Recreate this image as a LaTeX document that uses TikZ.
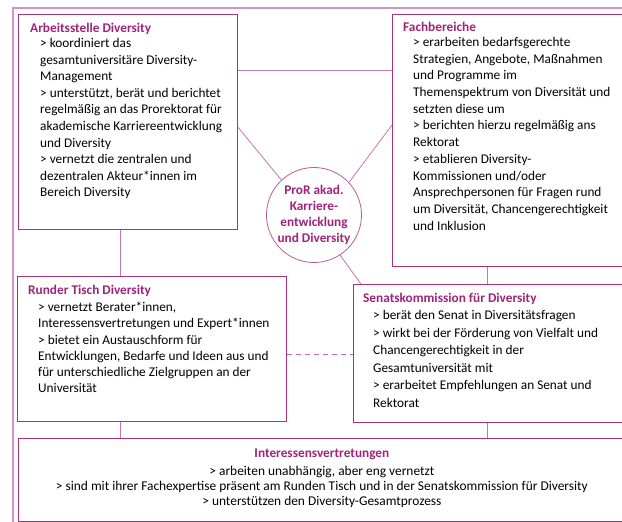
\documentclass[tikz,border=0pt]{standalone}
\usepackage{fontspec}
\setmainfont{Carlito}
\usetikzlibrary{positioning,calc}
\definecolor{titel}{RGB}{158,36,122}
\definecolor{rahmen}{RGB}{168,50,128}
\definecolor{linie}{RGB}{196,118,178}
\definecolor{aussen}{RGB}{214,146,198}
\tikzset{
	kasten/.style={draw=rahmen,line width=.8pt,anchor=north west,inner sep=0pt},
	kopf/.style={anchor=base west,inner sep=0pt,text=titel,font=\fontsize{13.3}{16}\selectfont\bfseries},
	liste/.style={anchor=north west,inner sep=0pt,align=left,font=\fontsize{13.3}{#1}\selectfont},
	verb/.style={draw=linie,line width=.8pt},
}
\begin{document}
\begin{tikzpicture}[x=1pt,y=-1pt]
	\useasboundingbox (0,0) rectangle (622,522);
	\clip (0,0) rectangle (622,522);
	\draw[aussen,line width=1.3pt] (13,8) rectangle (660,560);
	\coordinate (h1) at (0,70);
	\coordinate (h2) at (0,354);
	\coordinate (v1) at (120,0);
	\coordinate (v2) at (487,0);

	\node[kasten,minimum width=219pt,minimum height=215pt] (arb) at (18,14) {};
	\node[kopf] (arbkopf) at ($(arb.north west)+(12,18)$) {Arbeitsstelle Diversity};
	\node[liste=16.6pt] (arbtext) at ($(arbkopf.base west)+(10,6)$) {> koordiniert das\\gesamtuniversitäre Diversity-\\Management\\> unterstützt, berät und berichtet\\regelmäßig an das Prorektorat für\\akademische Karriereentwicklung\\und Diversity\\> vernetzt die zentralen und\\dezentralen Akteur*innen im\\Bereich Diversity};

	\node[kasten,minimum width=240pt,minimum height=252pt] (fach) at (392,14) {};
	\node[kopf] (fachkopf) at ($(fach.north west)+(11,17)$) {Fachbereiche};
	\node[liste=16.7pt] (fachtext) at ($(fachkopf.base west)+(10,6)$) {> erarbeiten bedarfsgerechte\\Strategien, Angebote, Maßnahmen\\und Programme im\\Themenspektrum von Diversität und\\setzten diese um\\> berichten hierzu regelmäßig ans\\Rektorat\\> etablieren Diversity-\\Kommissionen und/oder\\Ansprechpersonen für Fragen rund\\um Diversität, Chancengerechtigkeit\\und Inklusion};

	\node[draw=rahmen!80,circle,line width=.8pt,minimum size=95pt,inner sep=0pt,align=center,text=titel,font=\fontsize{13.3}{16}\selectfont\bfseries] (pror) at (314,215) {ProR akad.\\Karriere-\\entwicklung\\und Diversity};

	\node[kasten,minimum width=269pt,minimum height=145pt] (rund) at (17,276) {};
	\node[kopf] (rundkopf) at ($(rund.north west)+(11,18)$) {Runder Tisch Diversity};
	\node[liste=16.2pt] (rundtext) at ($(rundkopf.base west)+(10,8)$) {> vernetzt Berater*innen,\\Interessensvertretungen und Expert*innen\\> bietet ein Austauschform für\\Entwicklungen, Bedarfe und Ideen aus und\\für unterschiedliche Zielgruppen an der\\Universität};

	\node[kasten,minimum width=280pt,minimum height=138pt] (senat) at (353,284) {};
	\node[kopf] (senatkopf) at ($(senat.north west)+(10,18)$) {Senatskommission für Diversity};
	\node[liste=17.6pt] (senattext) at ($(senatkopf.base west)+(10,8)$) {> berät den Senat in Diversitätsfragen\\> wirkt bei der Förderung von Vielfalt und\\Chancengerechtigkeit in der\\Gesamtuniversität mit\\> erarbeitet Empfehlungen an Senat und\\Rektorat};

	\node[kasten,minimum width=607pt,minimum height=83pt] (inter) at (18,438) {};
	\node[kopf,anchor=base] (interkopf) at ($(inter.north)+(0,19)$) {Interessensvertretungen};
	\node[liste=15.3pt,anchor=north,align=center,font=\fontsize{13.4}{15.3}\selectfont] (intertext) at ($(interkopf.base)+(0,8.5)$) {> arbeiten unabhängig, aber eng vernetzt\\> sind mit ihrer Fachexpertise präsent am Runden Tisch und in der Senatskommission für Diversity\\> unterstützen den Diversity-Gesamtprozess};

	\draw[verb] (arb.east |- h1) -- (fach.west |- h1);
	\draw[verb] ([yshift=-113pt]arb.north east) -- (pror.133);
	\draw[verb] ([yshift=-111pt]fach.north west) -- (pror.43);
	\draw[verb] (pror.303) -- ([xshift=8pt]senat.north west);
	\draw[verb] (arb.south -| v1) -- (rund.north -| v1);
	\draw[verb] (rund.south -| v1) -- (inter.north -| v1);
	\draw[verb] (fach.south -| v2) -- (senat.north -| v2);
	\draw[verb] (senat.south -| v2) -- (inter.north -| v2);
	\draw[verb,draw=linie!90!magenta,dashed,dash pattern=on 5pt off 4pt] (rund.east |- h2) -- (senat.west |- h2);
\end{tikzpicture}
\end{document}
